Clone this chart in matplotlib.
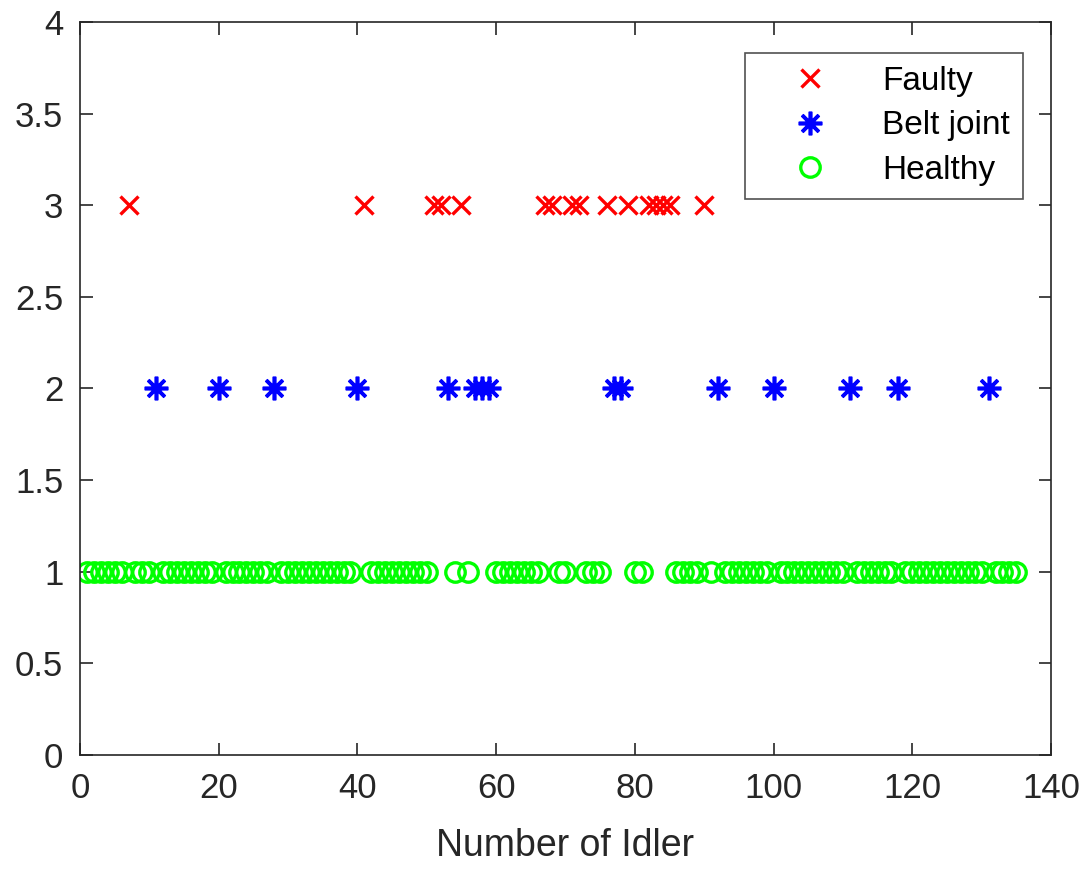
import numpy as np
import matplotlib.pyplot as plt

plt.rcParams['font.family'] = ['Liberation Sans', 'DejaVu Sans']

# idler numbers per class
faulty_x = [7, 41, 51, 52, 55, 67, 68, 71, 72, 76, 79, 82, 83, 84, 85, 90]
belt_x = [11, 20, 28, 40, 53, 57, 58, 59, 77, 78, 92, 100, 111, 118, 131]
healthy_x = [i for i in range(1, 136) if i not in faulty_x and i not in belt_x]

faulty_y = [3] * len(faulty_x)
belt_y = [2] * len(belt_x)
healthy_y = [1] * len(healthy_x)

fig = plt.figure(figsize=(10.88, 8.69), dpi=100)
ax = fig.add_axes([0.0735, 0.1312, 0.8925, 0.8435])

ax.plot(faulty_x, faulty_y, 'x', color='red', markersize=13, markeredgewidth=2.4, label='Faulty')
ax.plot(belt_x, belt_y, linestyle='none', marker=(8, 2, 0), color='blue', markersize=17,
        markeredgewidth=2.6, label='Belt joint')
ax.plot(healthy_x, healthy_y, 'o', color='#00ff00', markerfacecolor='none', markersize=14,
        markeredgewidth=2.4, label='Healthy')

ax.set_xlim(0, 140)
ax.set_ylim(0, 4)
ax.set_xticks(np.arange(0, 141, 20))
ax.set_yticks(np.arange(0, 4.01, 0.5))
ax.set_yticklabels(['0', '0.5', '1', '1.5', '2', '2.5', '3', '3.5', '4'])
ax.set_xlabel('Number of Idler', fontsize=27, color='#262626', labelpad=17)

ax.tick_params(direction='in', length=9, width=1.2, top=True, right=True,
               labelsize=25, colors='#262626', pad=12)
for s in ax.spines.values():
    s.set_linewidth(1.2)
    s.set_color('#262626')

leg = ax.legend(loc='upper right', bbox_to_anchor=(0.971, 0.958), fontsize=24,
                frameon=True, fancybox=False, borderpad=0.4, handlelength=3.1,
                handletextpad=0.6, labelspacing=0.4, borderaxespad=0)
leg.get_frame().set_edgecolor('#262626')
leg.get_frame().set_linewidth(1.2)

fig.savefig('out.png', dpi=100)
